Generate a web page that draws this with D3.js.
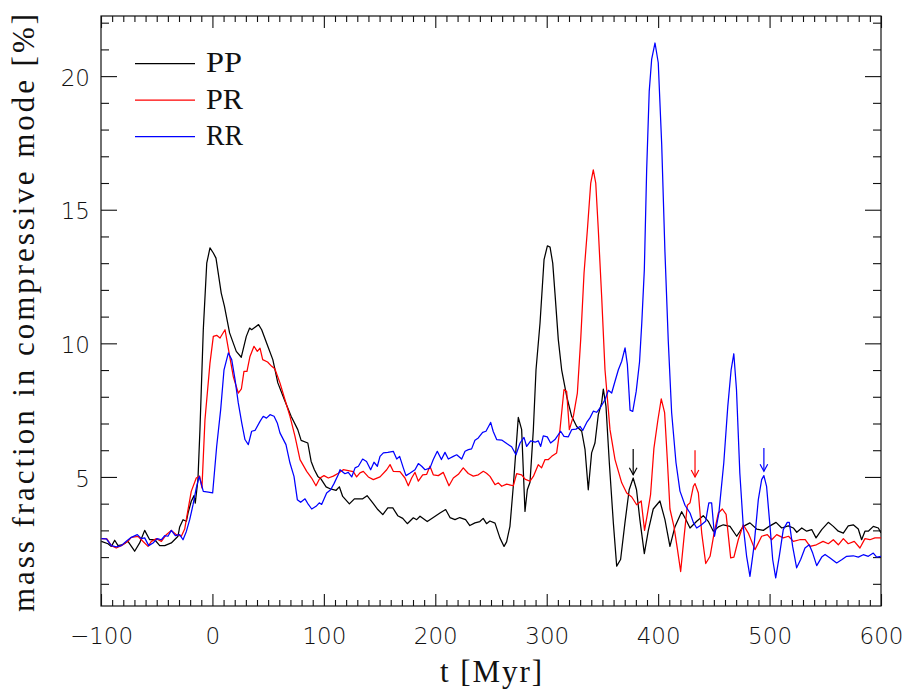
<!DOCTYPE html>
<html><head><meta charset="utf-8">
<script src="https://cdn.jsdelivr.net/npm/d3@7"></script>
<style>body{margin:0;background:#fff} svg{display:block}</style>
</head><body>
<svg id="chart" width="909" height="689"></svg>
<script>
// ---------- data ----------
const xMajorTicks = [-100, 0, 100, 200, 300, 400, 500, 600];
const yMajorTicks = [5, 10, 15, 20];
const seriesNames = ["PP", "PR", "RR"];
const seriesColors = ["#000000", "#ff0000", "#0000ff"];
const xLabel = "t [Myr]";
const yLabel = "mass fraction in compressive mode [%]";

// [t (Myr), mass fraction (%)]
const ppData = [[-99.7,2.59],[-93.7,2.50],[-90.7,2.40],[-87.7,2.63],[-84.7,2.43],[-80.3,2.47],[-75.8,2.59],[-69.8,2.22],[-65.3,2.53],[-60.8,3.00],[-56.3,2.65],[-51.8,2.65],[-47.3,2.43],[-42.8,2.43],[-36.9,2.53],[-30.9,2.78],[-29.4,3.13],[-26.4,3.40],[-23.4,3.34],[-21.9,3.65],[-19,4.09],[-16.5,4.30],[-15.4,4.02],[-13,4.90],[-11.2,6.77],[-8.2,10.51],[-5.1,13.0],[-2.2,13.57],[0.8,13.38],[3.2,13.19],[7.9,11.88],[10.8,11.38],[15.4,10.39],[21.4,9.70],[25.9,9.48],[30.4,10.26],[33.4,10.57],[35.2,10.51],[41.4,10.70],[44.2,10.51],[49.7,9.89],[54.2,9.39],[58.7,8.52],[64.6,7.89],[70.6,7.27],[76.6,6.77],[79.6,6.37],[85.6,6.27],[88.6,5.58],[91.5,5.27],[94.6,5.02],[97.5,4.92],[102,4.63],[106,4.55],[111,4.50],[113.9,4.63],[116.9,4.27],[122.9,3.99],[127.4,4.18],[134.9,4.18],[138.8,4.30],[143.9,4.03],[148.4,3.78],[152.9,3.59],[157.4,3.84],[161.9,3.84],[166.3,3.55],[170.8,3.45],[174.9,3.25],[180.3,3.47],[183.3,3.40],[186.3,3.53],[192.8,3.33],[198.2,3.48],[204.2,3.65],[209.3,3.78],[213.2,3.48],[217.7,3.40],[222,3.48],[227.2,3.40],[231,3.18],[235.6,3.28],[240,3.33],[243,3.45],[246,3.25],[249,3.35],[253.6,3.27],[258,2.72],[261.7,2.40],[264,2.57],[267,3.15],[270,4.65],[274.5,7.23],[277.5,6.77],[280.5,3.71],[282.6,4.52],[285,4.80],[288,6.77],[290.4,9.01],[294,10.76],[297.6,13.13],[300.6,13.65],[303,13.6],[305.4,13.0],[307.4,11.88],[310.4,10.14],[313.4,9.01],[317.9,8.02],[322.4,7.27],[326.9,6.89],[331.4,6.71],[334.4,6.02],[337.3,4.52],[340.3,5.90],[343.3,6.27],[346.3,7.33],[349.3,7.77],[350.8,8.29],[353.2,7.64],[356.2,5.52],[359.8,3.28],[362.8,1.66],[366.3,1.91],[370.2,3.28],[374,4.52],[377.6,4.96],[380.6,4.52],[383.6,3.40],[387.6,2.13],[391.2,3.0],[395.6,3.80],[401.6,4.10],[406.1,3.40],[410.6,2.40],[415.1,3.14],[421.1,3.70],[425,3.4],[428.6,3.09],[434.6,3.34],[440.5,3.55],[445,3.34],[449.5,2.97],[454,3.13],[458.5,3.21],[464.5,3.15],[470.5,2.78],[476.4,3.15],[482.4,3.28],[488.4,3.05],[494.4,3.0],[500.4,3.17],[505.8,3.30],[510.9,3.09],[516.8,3.17],[521.3,3.09],[524.4,2.93],[528.9,3.09],[533.3,2.97],[537.8,3.03],[541.7,2.72],[546.8,3.03],[552.7,3.30],[557.2,3.15],[561.7,2.97],[566.2,2.90],[570.6,3.17],[575.1,3.21],[579.6,3.05],[582.6,2.65],[585.6,2.97],[588.6,2.97],[593.1,3.15],[597.6,3.09],[600,2.90]];

const prData = [[-99.7,2.69],[-94.7,2.68],[-90.7,2.43],[-86.3,2.34],[-81.8,2.43],[-75.8,2.59],[-72.8,2.74],[-66.8,2.78],[-63.8,2.65],[-57.8,2.40],[-54.8,2.59],[-50.3,2.69],[-45.8,2.59],[-41.4,2.84],[-36.9,3.0],[-32.4,2.84],[-27.9,2.78],[-24.9,3.05],[-21.9,3.78],[-19,4.46],[-14.5,4.96],[-11.5,5.03],[-9.4,4.59],[-6.7,7.14],[-2.2,9.26],[0.8,10.26],[3.8,10.3],[6.8,10.2],[11.3,10.51],[14.2,9.82],[18.7,8.76],[23.2,8.14],[26,8.3],[28.3,8.95],[31,8.95],[33.7,9.51],[37.3,9.89],[40.3,9.7],[42.7,9.82],[45.1,9.39],[49.5,9.3],[53.2,9.14],[56,9.05],[60.6,8.52],[65.1,7.89],[69.6,7.27],[74.1,6.52],[78.6,5.65],[84.6,5.21],[89,4.96],[92.9,4.67],[96.5,4.96],[100.1,5.05],[104,4.96],[108.5,5.03],[113,5.14],[117.4,5.27],[121.9,5.24],[126.4,5.20],[129.4,5.0],[132.4,5.15],[135.4,5.21],[139.9,5.0],[144.4,4.9],[150.4,5.0],[156.4,5.27],[159.4,5.46],[162.3,5.21],[168.3,5.20],[172.8,4.96],[175.8,4.67],[178.8,4.96],[181.8,5.17],[184.8,4.84],[188.7,5.08],[192.3,5.10],[195.2,5.40],[198.2,5.08],[202.7,5.05],[207.2,5.17],[212.3,4.67],[216.2,4.96],[220.7,5.10],[225.1,5.34],[229.6,5.13],[234.1,5.03],[238.6,5.08],[243.1,5.21],[246,5.14],[249.1,5.02],[253.6,4.71],[256.6,4.78],[259.6,4.65],[264,4.73],[270,4.67],[273,5.12],[277.5,5.08],[280.5,4.92],[285,4.84],[288,5.02],[292.4,5.46],[295.4,5.34],[298.5,5.65],[301.5,5.65],[304.5,5.77],[308.9,5.90],[311.9,6.77],[315.5,8.27],[317.9,8.2],[320.3,6.77],[323.9,7.27],[327.5,8.14],[330.5,10.14],[333.5,12.63],[336.5,14.25],[339.5,16.0],[341.8,16.49],[344,16.0],[346.3,14.25],[349.3,11.76],[352.3,9.01],[356.8,6.77],[361.3,5.65],[367.3,4.78],[371.8,4.40],[376.3,4.25],[380.7,3.96],[384.8,4.1],[387.8,3.0],[390.3,3.6],[393.2,4.34],[396.2,6.07],[399.8,7.14],[402.8,7.92],[405.8,7.41],[408.2,5.67],[410.6,3.80],[414.2,3.14],[417.2,2.33],[420.2,1.46],[423.2,2.73],[426.2,3.94],[428.6,4.03],[431.6,4.65],[433.1,4.75],[436.1,4.40],[439.1,2.90],[442.7,1.76],[446.6,2.03],[450.2,2.9],[454,3.65],[457.6,3.80],[461,3.6],[465.1,1.97],[468,2.0],[471.9,2.65],[476.4,3.21],[480.9,2.9],[486.9,2.28],[492.9,2.78],[498,2.84],[501.9,2.65],[506.4,2.84],[512.3,2.72],[517,2.78],[521.3,2.59],[527,2.65],[532,2.65],[536.3,2.40],[542,2.46],[548,2.59],[552.7,2.5],[557.2,2.65],[561.7,2.46],[566.2,2.69],[570.6,2.5],[576,2.59],[581.1,2.34],[585.6,2.69],[590,2.65],[594.6,2.72],[600,2.72]];

const rrData = [[-99.7,2.69],[-95.2,2.68],[-90.7,2.43],[-86.3,2.38],[-81.8,2.43],[-77.3,2.59],[-72.8,2.74],[-67.4,2.84],[-63.8,2.69],[-60.8,2.72],[-57.2,2.43],[-53.3,2.53],[-49.5,2.69],[-45.8,2.65],[-42.8,2.80],[-39.9,2.78],[-36.9,3.0],[-33.3,2.80],[-29.4,2.84],[-26.4,2.65],[-23.4,2.96],[-20.4,3.40],[-17.4,3.96],[-14.5,4.59],[-11.8,5.02],[-8.2,4.46],[-3.7,4.43],[0.2,4.40],[3.8,6.14],[7.4,7.52],[10.4,9.01],[14.3,9.64],[17.3,9.39],[20.3,8.64],[23.2,7.77],[26.3,7.02],[29.2,6.40],[32.2,6.21],[35.2,6.71],[38.2,6.74],[42.7,7.08],[45.6,7.27],[48.5,7.2],[51.7,7.33],[55.3,7.27],[58.2,7.02],[60.6,6.65],[66,6.21],[69.6,5.52],[73.2,5.02],[76.2,4.15],[79.2,4.05],[83.1,4.18],[86.1,3.97],[89.1,3.80],[93,3.9],[95.9,4.03],[98,3.97],[102.5,4.40],[106.1,4.52],[109.1,4.75],[113,5.09],[114.5,5.27],[118.9,5.12],[121.9,5.17],[125,5.0],[128,5.34],[131,5.4],[134.8,5.67],[138.3,5.58],[142,5.27],[145,5.55],[148,5.40],[150.4,5.77],[153.4,5.90],[157.4,5.92],[162.3,5.96],[165.4,5.67],[168,5.77],[171.3,5.34],[173.7,5.05],[177.5,5.15],[181.8,5.27],[184.8,5.50],[187.8,5.40],[190.8,5.27],[195.2,5.33],[198.2,5.65],[201.8,5.96],[205.5,5.65],[208.7,5.92],[211.7,5.67],[216.2,5.77],[219.2,5.83],[223.7,5.67],[226.7,5.96],[229.7,6.02],[232.6,6.05],[235.6,6.37],[238.6,6.46],[242.5,6.67],[245.5,6.71],[249.7,7.04],[252,6.7],[255.1,6.40],[259.6,6.38],[264.1,6.25],[268.5,6.13],[272.4,5.83],[276.1,6.27],[279.6,6.48],[282,6.14],[285.6,6.35],[289.6,6.3],[292.4,6.35],[294.6,6.14],[296.9,6.54],[300.5,6.5],[303.5,6.27],[307.4,6.40],[312.5,6.71],[315.5,6.52],[319.4,6.50],[322.4,6.77],[326.3,6.79],[329.9,6.89],[332.3,6.74],[335.9,7.04],[338.8,7.21],[341.8,7.46],[344.8,7.42],[347.9,7.58],[352.3,7.89],[355.3,8.24],[358.3,8.14],[361.3,8.58],[364.3,9.01],[367.3,9.33],[370.3,9.83],[372.4,9.20],[374.8,7.50],[377.2,7.45],[380.3,8.2],[383.3,9.3],[385.3,10.75],[387.6,12.75],[389.7,16.5],[392,19.44],[394.2,20.64],[397.2,21.24],[400.1,20.5],[403.2,17.43],[406.1,13.43],[409.1,10.08],[412.1,7.41],[416,5.54],[419.6,4.47],[424.1,3.94],[428.6,3.65],[431.6,3.30],[434.6,3.09],[438.6,3.2],[442.6,3.34],[445.5,4.03],[448,4.03],[450.6,2.78],[454.5,3.65],[458.9,5.52],[462.5,7.64],[465.5,9.01],[467.9,9.61],[470.3,8.27],[473.3,5.15],[476.4,3.15],[479.4,2.03],[482.4,1.28],[486,2.40],[489.9,4.15],[492.9,4.90],[494.9,5.05],[497.3,4.65],[500.4,3.15],[502.8,1.91],[505.5,1.22],[508.7,2.03],[512.3,3.03],[515.9,3.30],[517.7,3.30],[520.7,2.40],[524.3,1.60],[527.9,1.91],[531.8,2.34],[535.6,2.46],[538.7,2.15],[542.3,1.68],[546.8,2.0],[549.8,2.1],[554.3,1.97],[560.2,1.78],[564.7,1.9],[569.2,2.03],[575.1,2.05],[579.6,2.0],[584.1,2.09],[588.6,2.03],[593.1,2.15],[596.1,2.0],[600,2.03]];

// arrows marking peaks: time, top value, tip value
const arrowT = [377.6, 433.1, 494.9];
const arrowTop = [6.05, 6.0, 6.08];
const arrowTip = [5.08, 5.0, 5.21];

// ---------- layout ----------
const pL = 101, pR = 881, pT = 16, pB = 606;
const svg = d3.select("#chart");
const x = d3.scaleLinear().domain([-100, 600]).range([pL, pR]);
const y = d3.scaleLinear().domain([0.17, 22.25]).range([pB, pT]);

const tickFont = "'DejaVu Sans', sans-serif";
const serifFont = "'Liberation Serif', 'DejaVu Serif', serif";

const xMinor = d3.range(-100, 601, 10).filter(v => v % 100 !== 0);
const yMinor = d3.range(1, 23, 1).filter(v => v % 5 !== 0);

function styleAxis(g) {
  g.select(".domain").remove();
  g.selectAll(".tick line").attr("stroke", "#111").attr("stroke-width", 1.1);
}

// bottom
svg.append("g").attr("transform", `translate(0,${pB})`)
  .call(d3.axisBottom(x).tickValues(xMinor).tickSize(-6).tickFormat(""))
  .call(styleAxis);
const xb = svg.append("g").attr("transform", `translate(0,${pB})`)
  .call(d3.axisBottom(x).tickValues(xMajorTicks).tickSize(-12).tickPadding(22))
  .call(styleAxis);
xb.selectAll("text").attr("font-family", tickFont).attr("font-weight", 200)
  .attr("font-size", 23).attr("fill", "#111");
// top
svg.append("g").attr("transform", `translate(0,${pT})`)
  .call(d3.axisTop(x).tickValues(xMinor).tickSize(-6).tickFormat("")).call(styleAxis);
svg.append("g").attr("transform", `translate(0,${pT})`)
  .call(d3.axisTop(x).tickValues(xMajorTicks).tickSize(-12).tickFormat("")).call(styleAxis);
// left
svg.append("g").attr("transform", `translate(${pL},0)`)
  .call(d3.axisLeft(y).tickValues(yMinor).tickSize(-8).tickFormat("")).call(styleAxis);
const yl = svg.append("g").attr("transform", `translate(${pL},0)`)
  .call(d3.axisLeft(y).tickValues(yMajorTicks).tickSize(-16).tickPadding(11))
  .call(styleAxis);
yl.selectAll("text").attr("font-family", tickFont).attr("font-weight", 200)
  .attr("font-size", 23).attr("fill", "#111").attr("dy", "0.4em");
// right
svg.append("g").attr("transform", `translate(${pR},0)`)
  .call(d3.axisRight(y).tickValues(yMinor).tickSize(-8).tickFormat("")).call(styleAxis);
svg.append("g").attr("transform", `translate(${pR},0)`)
  .call(d3.axisRight(y).tickValues(yMajorTicks).tickSize(-16).tickFormat("")).call(styleAxis);

// frame
svg.append("rect").attr("x", pL).attr("y", pT)
  .attr("width", pR - pL).attr("height", pB - pT)
  .attr("fill", "none").attr("stroke", "#111").attr("stroke-width", 1.2);

// clip
svg.append("clipPath").attr("id", "clip").append("rect")
  .attr("x", pL).attr("y", pT).attr("width", pR - pL).attr("height", pB - pT);

const line = d3.line().x(d => x(d[0])).y(d => y(d[1]));
const allSeries = [ppData, prData, rrData];
const plot = svg.append("g").attr("clip-path", "url(#clip)");
allSeries.forEach((data, i) => {
  plot.append("path").datum(data).attr("d", line)
    .attr("fill", "none").attr("stroke", seriesColors[i])
    .attr("stroke-width", 1.25).attr("stroke-linejoin", "round");
});

// arrows
arrowT.forEach((t, i) => {
  const ax = x(t), y0 = y(arrowTop[i]), y1 = y(arrowTip[i]);
  const g = svg.append("g").attr("stroke", seriesColors[i]).attr("stroke-width", 1.2).attr("fill", "none");
  g.append("line").attr("x1", ax).attr("x2", ax).attr("y1", y0).attr("y2", y1);
  g.append("path").attr("d", `M${ax - 3.8},${y1 - 7}L${ax},${y1}L${ax + 3.8},${y1 - 7}`);
});

// legend
const legendLen = [36, 37, 37];
seriesNames.forEach((name, i) => {
  const ly = 63.5 + i * 36.6;
  svg.append("line").attr("x1", 135).attr("x2", 195).attr("y1", ly).attr("y2", ly)
    .attr("stroke", seriesColors[i]).attr("stroke-width", 1.25);
  svg.append("text").attr("x", 206).attr("y", ly + 8.5)
    .attr("font-family", serifFont).attr("font-size", 30).attr("fill", "#111")
    .attr("textLength", legendLen[i]).attr("lengthAdjust", "spacingAndGlyphs")
    .text(name);
});

// axis titles
svg.append("text").attr("x", (pL + pR) / 2).attr("y", 681.5)
  .attr("text-anchor", "middle").attr("font-family", serifFont).attr("font-size", 31)
  .attr("fill", "#111").attr("textLength", 102).attr("lengthAdjust", "spacing")
  .text(xLabel);
svg.append("text").attr("transform", `translate(34,${(pT + pB) / 2 + 2}) rotate(-90)`)
  .attr("text-anchor", "middle").attr("font-family", serifFont).attr("font-size", 31)
  .attr("fill", "#111").attr("textLength", 598).attr("lengthAdjust", "spacing")
  .text(yLabel);
</script>
</body></html>
